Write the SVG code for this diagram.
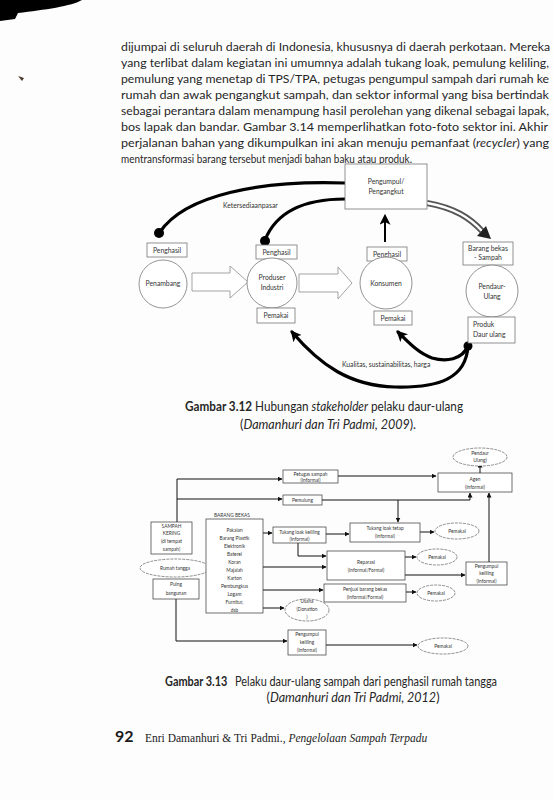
<svg xmlns="http://www.w3.org/2000/svg" width="553" height="800" viewBox="0 0 553 800">
<style>
.t{font-family:Lato,"Liberation Sans",Arial,sans-serif;fill:#262626}
.p{font-size:11.5px}
.s{font-size:6.8px;fill:#333}
.xs{font-size:4.8px;fill:#333;text-anchor:middle}
.c{text-anchor:middle}
.bx{fill:#fff;stroke:#777;stroke-width:0.8}
.bx2{fill:#fff;stroke:#333;stroke-width:0.7}
.cir{fill:#fff;stroke:#888;stroke-width:0.9}
.el{fill:#fff;stroke:#444;stroke-width:0.6;stroke-dasharray:3 1}
.ln{fill:none;stroke:#111;stroke-width:1}
.bk{fill:none;stroke:#000;stroke-width:3.2;stroke-linecap:round}
.hol{fill:#fff;stroke:#999;stroke-width:0.9}
.cap{font-size:12.5px}
</style>
<defs>
<marker id="ah" viewBox="0 0 10 10" refX="9" refY="5" markerWidth="5" markerHeight="5" markerUnits="userSpaceOnUse" orient="auto"><path d="M0,0 L10,5 L0,10 z" fill="#111"/></marker>
<marker id="big" viewBox="0 0 10 10" refX="8" refY="5" markerWidth="11" markerHeight="11" markerUnits="userSpaceOnUse" orient="auto"><path d="M0,0 L10,5 L0,10 L2.5,5 z" fill="#000"/></marker>
</defs>
<rect width="553" height="800" fill="#fdfdfd"/>
<path d="M0,0 L82,0 C72,6 44,10 18,13 L15,19 L0,21 Z" fill="#000"/>
<path d="M18,76 L24,78 L22,81 Z" fill="#4a3a2a"/>

<g id="paragraph" class="t p">
<text x="121" y="51" textLength="429" lengthAdjust="spacingAndGlyphs">dijumpai di seluruh daerah di Indonesia, khususnya di daerah perkotaan. Mereka</text>
<text x="121" y="67" textLength="428" lengthAdjust="spacingAndGlyphs">yang terlibat dalam kegiatan ini umumnya adalah tukang loak, pemulung keliling,</text>
<text x="121" y="83" textLength="428" lengthAdjust="spacingAndGlyphs">pemulung yang menetap di TPS/TPA, petugas pengumpul sampah dari rumah ke</text>
<text x="121" y="99" textLength="428" lengthAdjust="spacingAndGlyphs">rumah dan awak pengangkut sampah, dan sektor informal yang bisa bertindak</text>
<text x="121" y="115" textLength="428" lengthAdjust="spacingAndGlyphs">sebagai perantara dalam menampung hasil perolehan yang dikenal sebagai lapak,</text>
<text x="121" y="131" textLength="427" lengthAdjust="spacingAndGlyphs">bos lapak dan bandar. Gambar 3.14 memperlihatkan foto-foto sektor ini. Akhir</text>
<text x="121" y="147" textLength="428" lengthAdjust="spacingAndGlyphs">perjalanan bahan yang dikumpulkan ini akan menuju pemanfaat (<tspan font-style="italic">recycler</tspan>) yang</text>
<text x="121" y="163" textLength="291" lengthAdjust="spacingAndGlyphs">mentransformasi barang tersebut menjadi bahan baku atau produk.</text>
</g>

<!-- Figure 3.12 -->
<g id="fig312-connectors">
<path class="bk" d="M345,183 C260,180 185,195 160,232"/>
<circle cx="159" cy="233" r="5" fill="#000"/>
<path class="bk" d="M345,199 C300,199 275,215 265,240"/>
<circle cx="265" cy="241" r="5" fill="#000"/>
<path d="M385,242 V216" stroke="#000" stroke-width="2" fill="none" marker-end="url(#big)"/>
<path d="M427,203 C455,208 470,218 482,231" stroke="#555" stroke-width="6" fill="none"/>
<path d="M427,203 C455,208 470,218 482,231" stroke="#fff" stroke-width="2.5" fill="none"/>
<path d="M477,236 L491,239 L486,226 Z" fill="#222"/>
<polygon class="hol" points="192,273 230,273 230,266 248,282 230,298 230,291 192,291"/>
<polygon class="hol" points="299,274 338,274 338,267 352,283 338,299 338,292 299,292"/>
<path class="bk" d="M468,346 C466,378 440,388 395,387 C350,386 320,365 292,332" marker-end="url(#big)"/>
<path class="bk" d="M468,346 C462,360 446,362 432,358 C418,353 408,342 398,332" marker-end="url(#big)"/>
<circle cx="468" cy="346" r="4.5" fill="#000"/>
<text class="t s" x="223" y="208" font-size="6.5">Ketersediaanpasar</text>
<text class="t s" x="342" y="367">Kualitas, sustainabilitas, harga</text>
</g>

<g id="pengumpul-pengangkut">
<rect class="bx" x="345" y="164" width="82" height="45" stroke="#ccc"/>
<text class="t s c" x="386" y="184">Pengumpul/</text>
<text class="t s c" x="386" y="194">Pengangkut</text>
</g>
<g id="penghasil-1"><rect class="bx" x="147" y="243" width="40" height="14"/><text class="t s c" x="167" y="252.5">Penghasil</text></g>
<g id="penghasil-2"><rect class="bx" x="256" y="245" width="41" height="14"/><text class="t s c" x="276.5" y="254.5">Penghasil</text></g>
<g id="penghasil-3"><rect class="bx" x="367" y="247" width="40" height="14"/><text class="t s c" x="387" y="256.5">Penghasil</text></g>
<g id="barang-bekas-sampah"><rect class="bx" x="463" y="242" width="50" height="23"/><text class="t s c" x="488" y="251">Barang bekas</text><text class="t s c" x="488" y="260">- Sampah</text></g>
<g id="penambang"><circle class="cir" cx="163" cy="284" r="24"/><text class="t s c" x="163" y="286">Penambang</text></g>
<g id="produser"><circle class="cir" cx="272" cy="283" r="25"/><text class="t s c" x="272" y="280">Produser</text><text class="t s c" x="272" y="290">Industri</text></g>
<g id="konsumen"><circle class="cir" cx="386" cy="283" r="26"/><text class="t s c" x="386" y="286">Konsumen</text></g>
<g id="pendaur-ulang"><circle class="cir" cx="492" cy="291" r="26"/><text class="t s c" x="492" y="289">Pendaur-</text><text class="t s c" x="492" y="299">Ulang</text></g>
<g id="pemakai-1"><rect class="bx" x="257" y="308" width="38" height="15"/><text class="t s c" x="276" y="318">Pemakai</text></g>
<g id="pemakai-2"><rect class="bx" x="374" y="311" width="38" height="14"/><text class="t s c" x="393" y="320.5">Pemakai</text></g>
<g id="produk-daur-ulang"><rect class="bx" x="468" y="317" width="47" height="26"/><text class="t s" x="473" y="327">Produk</text><text class="t s" x="473" y="337">Daur ulang</text></g>

<g id="caption-312" class="t cap">
<text x="185" y="411" textLength="278" lengthAdjust="spacingAndGlyphs"><tspan font-weight="bold">Gambar 3.12</tspan> Hubungan <tspan font-style="italic">stakeholder</tspan> pelaku daur-ulang</text>
<text x="328" y="429" class="c">(<tspan font-style="italic">Damanhuri dan Tri Padmi, 2009</tspan>).</text>
</g>

<!-- Figure 3.13 -->
<g id="fig313-connectors">
<path class="ln" d="M177,522 V479 H282" marker-end="url(#ah)"/>
<path class="ln" d="M177,499 H282" marker-end="url(#ah)"/>
<path class="ln" d="M338,476 H436" marker-end="url(#ah)"/>
<path class="ln" d="M322,500 H470 V493" marker-end="url(#ah)"/>
<path class="ln" d="M398,500 V522" marker-end="url(#ah)"/>
<path class="ln" d="M263,533 H272" marker-end="url(#ah)"/>
<path class="ln" d="M326,534 H349" marker-end="url(#ah)"/>
<path class="ln" d="M420,532 H434" marker-end="url(#ah)"/>
<path class="ln" d="M298,543 V556 H326" marker-end="url(#ah)"/>
<path class="ln" d="M263,567 H326" marker-end="url(#ah)"/>
<path class="ln" d="M405,557 H416" marker-end="url(#ah)"/>
<path class="ln" d="M405,575 H465" marker-end="url(#ah)"/>
<path class="ln" d="M489,562 V493" marker-end="url(#ah)"/>
<path class="ln" d="M263,590 H323" marker-end="url(#ah)"/>
<path class="ln" d="M406,592 H416" marker-end="url(#ah)"/>
<path class="ln" d="M263,608 H284" marker-end="url(#ah)"/>
<path class="ln" d="M176,599 V641 H287" marker-end="url(#ah)"/>
<path class="ln" d="M326,645 H417" marker-end="url(#ah)"/>
<path class="ln" d="M480,473 V463" marker-end="url(#ah)"/>
</g>

<g id="pendaur-ulang-313"><ellipse class="el" cx="480" cy="457" rx="27" ry="9"/><text class="t xs" x="480" y="455">Pendaur</text><text class="t xs" x="480" y="462">Ulang)</text></g>
<g id="agen"><rect class="bx2" x="438" y="473" width="74" height="19" stroke="#999"/><text class="t xs" x="475" y="481">Agen</text><text class="t xs" x="475" y="489">(Informal)</text></g>
<g id="petugas-sampah"><rect class="bx2" x="283" y="470" width="55" height="13"/><text class="t xs" x="310.5" y="475.5">Petugas sampah</text><text class="t xs" x="310.5" y="481.5">(Informal)</text></g>
<g id="pemulung"><rect class="bx2" x="283" y="495" width="39" height="10"/><text class="t xs" x="302.5" y="501.5">Pemulung</text></g>
<g id="sampah-kering"><rect class="bx2" x="151" y="522" width="41" height="32"/><text class="t xs" x="171.5" y="528">SAMPAH</text><text class="t xs" x="171.5" y="535">KERING</text><text class="t xs" x="171.5" y="543">(di tempat</text><text class="t xs" x="171.5" y="551">sampah)</text></g>
<g id="rumah-tangga"><ellipse class="el" cx="175" cy="568" rx="35" ry="9"/><text class="t xs" x="175" y="570">Rumah tangga</text></g>
<g id="puing-bangunan"><rect class="bx2" x="153" y="579" width="46" height="20"/><text class="t xs" x="176" y="586">Puing</text><text class="t xs" x="176" y="595">bangunan</text></g>
<g id="barang-bekas-313">
<text class="t xs" x="232" y="517">BARANG BEKAS</text>
<rect class="bx2" x="206" y="519" width="57" height="94"/>
<text class="t xs" x="234.5" y="532">Pakaian</text>
<text class="t xs" x="234.5" y="540">Barang Plastik</text>
<text class="t xs" x="234.5" y="548">Elektronik</text>
<text class="t xs" x="234.5" y="556">Baterei</text>
<text class="t xs" x="234.5" y="564">Koran</text>
<text class="t xs" x="234.5" y="572">Majalah</text>
<text class="t xs" x="234.5" y="580">Karton</text>
<text class="t xs" x="234.5" y="588">Pembungkus</text>
<text class="t xs" x="234.5" y="596">Logam</text>
<text class="t xs" x="234.5" y="604">Furnitur,</text>
<text class="t xs" x="234.5" y="612">dsb</text>
</g>
<g id="tukang-loak-keliling"><rect class="bx2" x="273" y="527" width="53" height="16"/><text class="t xs" x="299.5" y="534">Tukang loak keliling</text><text class="t xs" x="299.5" y="541">(Informal)</text></g>
<g id="tukang-loak-tetap"><rect class="bx2" x="350" y="523" width="70" height="19"/><text class="t xs" x="385" y="530">Tukang loak tetap</text><text class="t xs" x="385" y="538">(Informal)</text></g>
<g id="pemakai-a"><ellipse class="el" cx="457" cy="531" rx="22" ry="8"/><text class="t xs" x="457" y="533">Pemakai</text></g>
<g id="reparasi"><rect class="bx2" x="327" y="551" width="78" height="29"/><text class="t xs" x="366" y="564">Reparasi</text><text class="t xs" x="366" y="572">(Informal/Formal)</text></g>
<g id="pemakai-b"><ellipse class="el" cx="437" cy="557" rx="20" ry="8"/><text class="t xs" x="437" y="559">Pemakai</text></g>
<g id="pengumpul-keliling-a"><rect class="bx2" x="466" y="562" width="41" height="23"/><text class="t xs" x="486.5" y="568">Pengumpul</text><text class="t xs" x="486.5" y="575">keliling</text><text class="t xs" x="486.5" y="583">(Informal)</text></g>
<g id="penjual-barang-bekas"><rect class="bx2" x="324" y="584" width="82" height="18"/><text class="t xs" x="365" y="590.5">Penjual barang bekas</text><text class="t xs" x="365" y="598.5">(Informal/Formal)</text></g>
<g id="pemakai-c"><ellipse class="el" cx="436" cy="593" rx="19" ry="8"/><text class="t xs" x="436" y="595">Pemakai</text></g>
<g id="usaha-donation"><ellipse class="el" cx="307" cy="610" rx="22" ry="11"/><text class="t xs" x="307" y="603">Usaha</text><text class="t xs" x="307" y="611">(Donation</text><text class="t xs" x="307" y="619">)</text></g>
<g id="pengumpul-keliling-b"><rect class="bx2" x="288" y="630" width="38" height="25"/><text class="t xs" x="307" y="636">Pengumpul</text><text class="t xs" x="307" y="644">keliling</text><text class="t xs" x="307" y="652">(Informal)</text></g>
<g id="pemakai-d"><ellipse class="el" cx="443" cy="646" rx="25" ry="8"/><text class="t xs" x="443" y="648">Pemakai</text></g>

<g id="caption-313" class="t cap">
<text x="165" y="686" textLength="332" lengthAdjust="spacingAndGlyphs"><tspan font-weight="bold">Gambar 3.13</tspan><tspan dx="9">Pelaku daur-ulang sampah dari penghasil rumah tangga</tspan></text>
<text x="353" y="702" class="c">(<tspan font-style="italic">Damanhuri dan Tri Padmi, 2012</tspan>)</text>
</g>

<g id="footer">
<text x="115" y="742" font-family="Lato,'Liberation Sans',sans-serif" font-weight="bold" font-size="16" fill="#1a1a1a">92</text>
<text x="145" y="742" font-family="'Liberation Serif','Times New Roman',serif" font-size="11.5" fill="#222">Enri Damanhuri &amp; Tri Padmi., <tspan font-style="italic">Pengelolaan Sampah Terpadu</tspan></text>
</g>
</svg>
